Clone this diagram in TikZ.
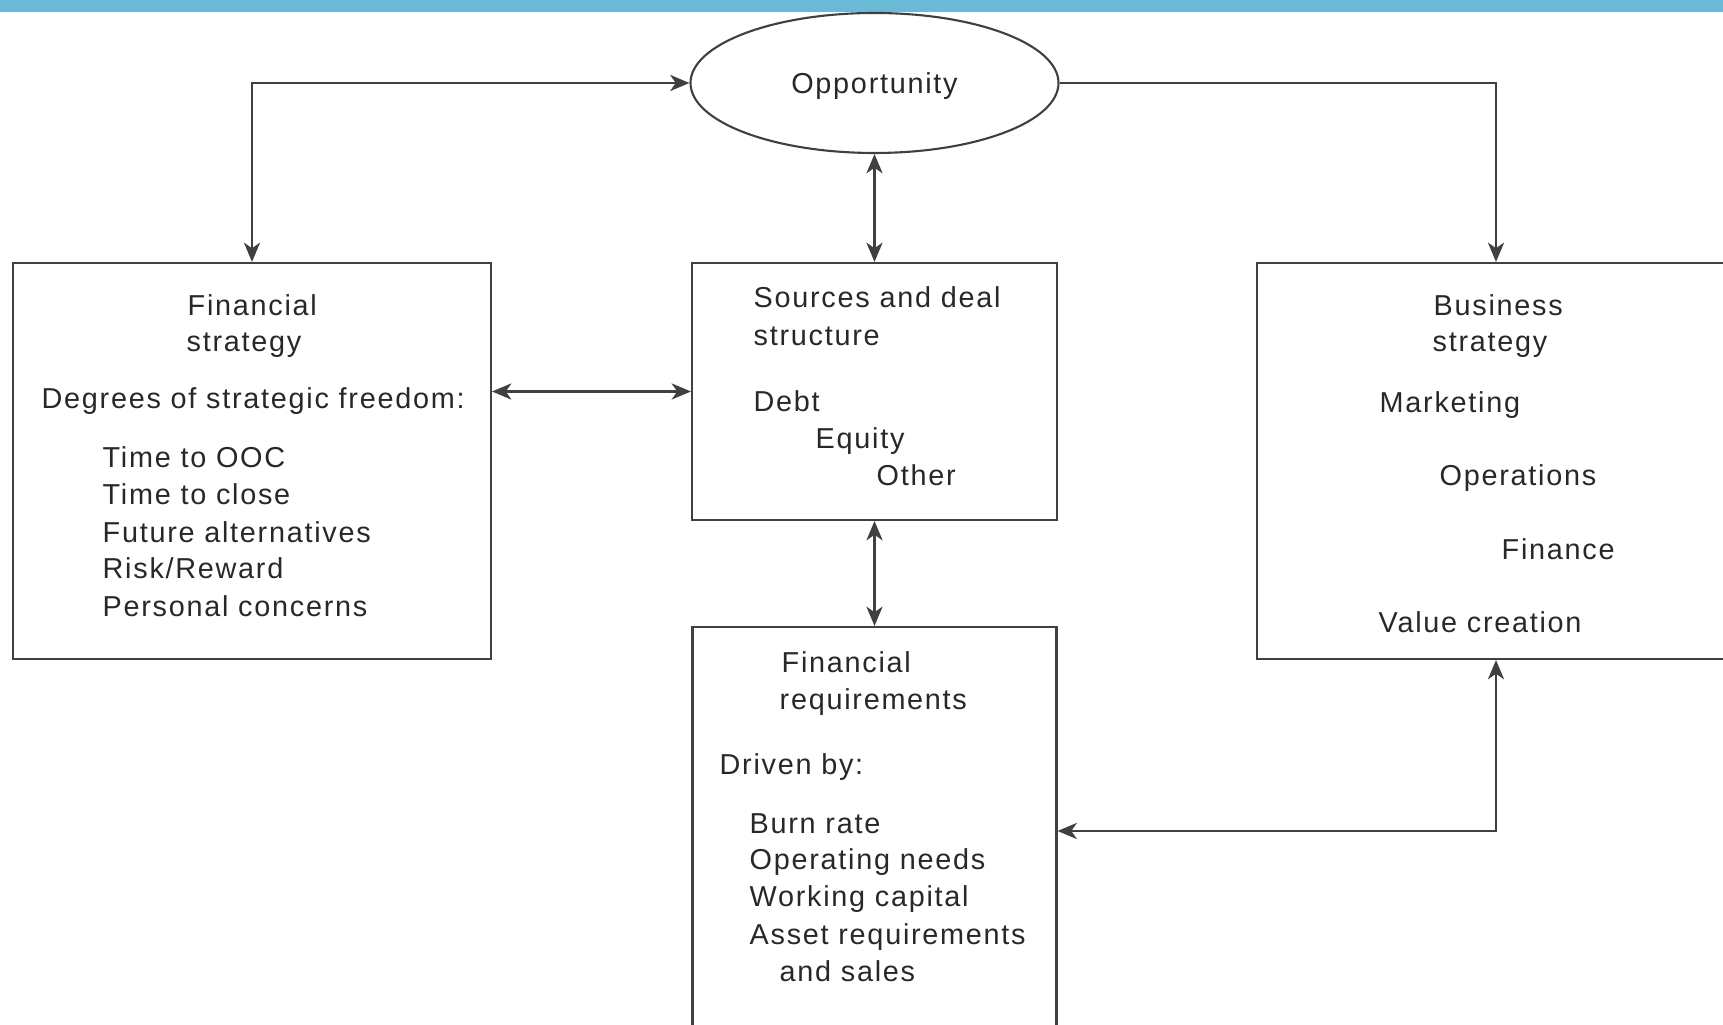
\documentclass[tikz,border=0pt]{standalone}
\usepackage{fontspec}
\setmainfont{Liberation Sans}[LetterSpace=6]
\usepackage{xcolor}
\usetikzlibrary{shapes.geometric}
\usetikzlibrary{arrows.meta}
\definecolor{barblue}{RGB}{104,186,214}
\definecolor{linegray}{RGB}{64,64,64}
\definecolor{textgray}{RGB}{40,40,40}
\tikzset{
    box/.style={draw=linegray, line width=0.6pt, rectangle, inner sep=0pt},
    txt/.style={anchor=base west, inner sep=0pt, text=textgray, font=\fontsize{8.2}{10}\selectfont},
    link/.style={draw=linegray, line width=0.6pt}
}

\begin{document}
\begin{tikzpicture}[>={Stealth[length=5.5pt, width=4.6pt, inset=1.6pt]}]
        \useasboundingbox (0, 0) rectangle (17.23, 10.25);
        \fill[barblue] (0, 10.13) rectangle (17.23, 10.25);

        \node[draw=linegray, line width=0.6pt, ellipse, minimum width=3.68cm, minimum height=1.40cm,
            inner sep=0pt, text depth=0pt, text=textgray, font=\fontsize{8.2}{10}\selectfont] (opp) at (8.745, 9.42) {Opportunity};

        \node[box, minimum width=4.78cm, minimum height=3.96cm] (finstrat) at (2.52, 5.64) {};
        \node[box, minimum width=3.65cm, minimum height=2.57cm] (sources) at (8.745, 6.335) {};
        \node[box, minimum width=4.78cm, minimum height=3.96cm] (busstrat) at (14.96, 5.64) {};
        \node[box, minimum width=3.64cm, minimum height=4.08cm] (finreq) at (8.745, 1.94) {};

        \draw[link, <->] (finstrat.north) -- (finstrat.north |- opp.west) -- (opp.west);
        \draw[link, ->] (opp.east) -| (busstrat.north);
        \draw[link, <->] (sources.north |- opp.south) -- (sources.north);
        \draw[link, <->] (finstrat.east |- sources.west) -- (sources.west);
        \draw[link, <->] (sources.south) -- (finreq.north);
        \draw[link, <->] (busstrat.south) |- (finreq.east);

        % financial strategy
        \node[txt] (fs1) at (1.87, 7.09) {Financial};
        \node[txt] (fs2) at (1.86, 6.73) {strategy};
        \node[txt] (fs3) at (0.41, 6.16) {Degrees of strategic freedom:};
        \node[txt] (fs4) at (1.02, 5.57) {Time to OOC};
        \node[txt] (fs5) at (1.02, 5.20) {Time to close};
        \node[txt] (fs6) at (1.02, 4.82) {Future alternatives};
        \node[txt] (fs7) at (1.02, 4.46) {Risk/Reward};
        \node[txt] (fs8) at (1.02, 4.08) {Personal concerns};

        % sources and deal structure
        \node[txt] (sd1) at (7.53, 7.17) {Sources and deal};
        \node[txt] (sd2) at (7.53, 6.79) {structure};
        \node[txt] (sd3) at (7.53, 6.13) {Debt};
        \node[txt] (sd4) at (8.15, 5.76) {Equity};
        \node[txt] (sd5) at (8.76, 5.39) {Other};

        % business strategy
        \node[txt] (bs1) at (14.33, 7.09) {Business};
        \node[txt] (bs2) at (14.32, 6.73) {strategy};
        \node[txt] (bs3) at (13.79, 6.12) {Marketing};
        \node[txt] (bs4) at (14.39, 5.39) {Operations};
        \node[txt] (bs5) at (15.01, 4.65) {Finance};
        \node[txt] (bs6) at (13.78, 3.92) {Value creation};

        % financial requirements
        \node[txt] (fr1) at (7.81, 3.52) {Financial};
        \node[txt] (fr2) at (7.79, 3.15) {requirements};
        \node[txt] (fr3) at (7.19, 2.50) {Driven by:};
        \node[txt] (fr4) at (7.49, 1.91) {Burn rate};
        \node[txt] (fr5) at (7.49, 1.55) {Operating needs};
        \node[txt] (fr6) at (7.49, 1.18) {Working capital};
        \node[txt] (fr7) at (7.49, 0.80) {Asset requirements};
        \node[txt] (fr8) at (7.79, 0.43) {and sales};
    \end{tikzpicture}
\end{document}
